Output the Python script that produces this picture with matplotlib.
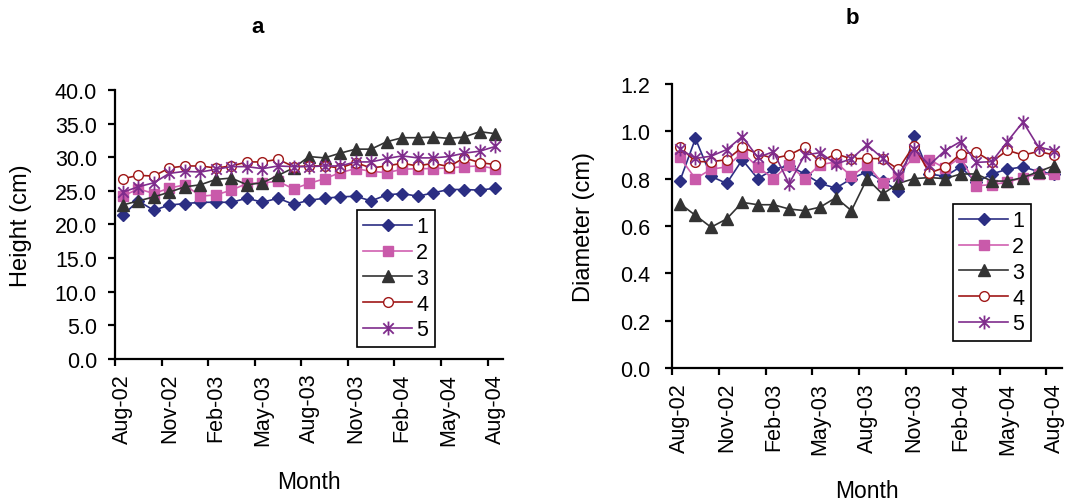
import matplotlib
matplotlib.use("Agg")
import matplotlib.pyplot as plt
from matplotlib.path import Path
from matplotlib.ticker import FormatStrFormatter

plt.rcParams['font.family'] = ['Liberation Sans', 'DejaVu Sans']

months = ["Aug-02", "Sep-02", "Oct-02", "Nov-02", "Dec-02", "Jan-03", "Feb-03", "Mar-03",
          "Apr-03", "May-03", "Jun-03", "Jul-03", "Aug-03", "Sep-03", "Oct-03", "Nov-03",
          "Dec-03", "Jan-04", "Feb-04", "Mar-04", "Apr-04", "May-04", "Jun-04", "Jul-04", "Aug-04"]
labels = ["1", "2", "3", "4", "5"]

# panel a : height (cm)
h1 = [21.4, 23.5, 22.1, 22.9, 23.1, 23.3, 23.3, 23.3, 23.9, 23.3, 23.9, 23.0, 23.6,
      23.9, 24.1, 24.2, 23.5, 24.4, 24.6, 24.2, 24.7, 25.2, 25.2, 25.1, 25.4]
h2 = [24.2, 25.3, 24.6, 25.4, 25.9, 24.2, 24.4, 25.1, 26.1, 26.2, 26.4, 25.3, 26.1,
      26.8, 27.7, 28.3, 27.9, 27.7, 28.2, 28.3, 28.3, 28.4, 28.6, 28.7, 28.3]
h3 = [22.9, 23.5, 24.1, 24.8, 25.6, 25.9, 26.7, 26.9, 25.9, 26.2, 27.3, 28.4, 30.1,
      29.9, 30.6, 31.2, 31.2, 32.3, 32.9, 32.9, 33.0, 32.8, 33.0, 33.8, 33.5]
h4 = [26.8, 27.3, 27.2, 28.4, 28.7, 28.7, 28.4, 28.7, 29.3, 29.3, 29.7, 28.6, 28.7,
      28.7, 28.4, 29.2, 28.4, 28.7, 29.1, 28.7, 29.1, 28.6, 29.9, 29.2, 28.9]
h5 = [24.8, 25.6, 26.2, 27.6, 27.9, 27.8, 28.2, 28.6, 28.6, 28.3, 28.7, 28.6, 28.6,
      28.7, 28.7, 29.3, 29.3, 29.8, 30.2, 29.9, 29.9, 30.1, 30.6, 30.9, 31.6]

# panel b : diameter (cm)
d1 = [0.79, 0.97, 0.81, 0.78, 0.88, 0.80, 0.84, 0.855, 0.82, 0.78, 0.76, 0.80, 0.83,
      0.79, 0.75, 0.98, 0.82, 0.81, 0.85, 0.785, 0.82, 0.84, 0.85, 0.83, 0.82]
d2 = [0.89, 0.80, 0.84, 0.85, 0.91, 0.85, 0.80, 0.86, 0.80, 0.86, 0.87, 0.81, 0.86,
      0.78, 0.82, 0.89, 0.88, 0.845, 0.89, 0.77, 0.775, 0.785, 0.805, 0.82, 0.82]
d3 = [0.695, 0.645, 0.595, 0.63, 0.70, 0.69, 0.69, 0.672, 0.665, 0.68, 0.72, 0.665, 0.80,
      0.735, 0.78, 0.80, 0.805, 0.80, 0.82, 0.82, 0.79, 0.79, 0.805, 0.83, 0.855]
d4 = [0.935, 0.872, 0.872, 0.88, 0.933, 0.905, 0.886, 0.90, 0.933, 0.872, 0.905, 0.884, 0.886,
      0.884, 0.84, 0.94, 0.824, 0.848, 0.905, 0.912, 0.872, 0.92, 0.90, 0.915, 0.90]
d5 = [0.925, 0.886, 0.895, 0.923, 0.978, 0.89, 0.914, 0.778, 0.90, 0.91, 0.862, 0.884, 0.943,
      0.886, 0.813, 0.926, 0.858, 0.919, 0.957, 0.869, 0.872, 0.957, 1.04, 0.933, 0.919]

# excel-like asterisk marker
star = Path([(0, -1), (0, 1), (-0.75, -0.75), (0.75, 0.75), (-0.75, 0.75), (0.75, -0.75)],
            [Path.MOVETO, Path.LINETO] * 3)

styles = [
    dict(color="#2B2E83", marker="D", ms=6.5, mfc="#2B2E83", mec="#2B2E83"),
    dict(color="#D160B0", marker="s", ms=6.5, mfc="#C95AAA", mec="#C95AAA"),
    dict(color="#333333", marker="^", ms=8, mfc="#333333", mec="#333333"),
    dict(color="#A01818", marker="o", ms=7, mfc="white", mec="#A01818"),
    dict(color="#7F2C8C", marker=star, ms=10, mfc="none", mec="#7F2C8C", mew=1.3),
]

fig = plt.figure(figsize=(10.71, 5.02), dpi=100)
axa = fig.add_axes([0.1074, 0.2829, 0.3623, 0.5359])
axb = fig.add_axes([0.6275, 0.2649, 0.3641, 0.5657])

x = list(range(len(months)))


def setup(ax, ylim, step, ylabel, fmt, ypad, ylabpad):
    for s in ["top", "right"]:
        ax.spines[s].set_visible(False)
    for s in ["left", "bottom"]:
        ax.spines[s].set_linewidth(1.6)
    ax.set_xlim(-0.5, len(months) - 0.5)
    ax.set_ylim(*ylim)
    n = int(round((ylim[1] - ylim[0]) / step))
    ax.set_yticks([ylim[0] + i * step for i in range(n + 1)])
    ax.yaxis.set_major_formatter(FormatStrFormatter(fmt))
    # tick marks between categories, labels at categories
    ax.set_xticks([i - 0.5 for i in range(0, len(months), 3)])
    ax.set_xticklabels([])
    ax.set_xticks(x[::3], minor=True)
    ax.set_xticklabels(months[::3], minor=True, rotation=90, fontsize=15.5)
    ax.tick_params(axis="x", which="minor", length=0, pad=10)
    ax.tick_params(axis="both", which="major", length=5, width=1.6, labelsize=15.5)
    ax.tick_params(axis="y", pad=ypad)
    ax.set_ylabel(ylabel, fontsize=17, labelpad=ylabpad)
    ax.set_xlabel("Month", fontsize=16.5, labelpad=18)


for vals, lab, st in zip([h1, h2, h3, h4, h5], labels, styles):
    axa.plot(x, vals, lw=1.2, label=lab, **st)
for vals, lab, st in zip([d1, d2, d3, d4, d5], labels, styles):
    axb.plot(x, vals, lw=1.2, label=lab, **st)

setup(axa, (0, 40), 5, "Height (cm)", "%.1f", 8, 16)
setup(axb, (0, 1.2), 0.2, "Diameter (cm)", "%.1f", 10.5, 18)

fig.text(0.2409, 0.946, "a", fontsize=16, fontweight="bold", ha="center", va="center")
fig.text(0.7955, 0.964, "b", fontsize=16, fontweight="bold", ha="center", va="center")

for ax, anchor in [(axa, (0.3333, 0.5797)), (axb, (0.8898, 0.5916))]:
    leg = ax.legend(loc="upper left", bbox_to_anchor=anchor, bbox_transform=fig.transFigure,
                    fontsize=15.5, handlelength=2.25, handletextpad=0.2, labelspacing=0.22,
                    borderpad=0.3, borderaxespad=0, fancybox=False, framealpha=1)
    leg.get_frame().set_edgecolor("black")
    leg.get_frame().set_linewidth(1.2)

fig.savefig("out.png", dpi=100)
